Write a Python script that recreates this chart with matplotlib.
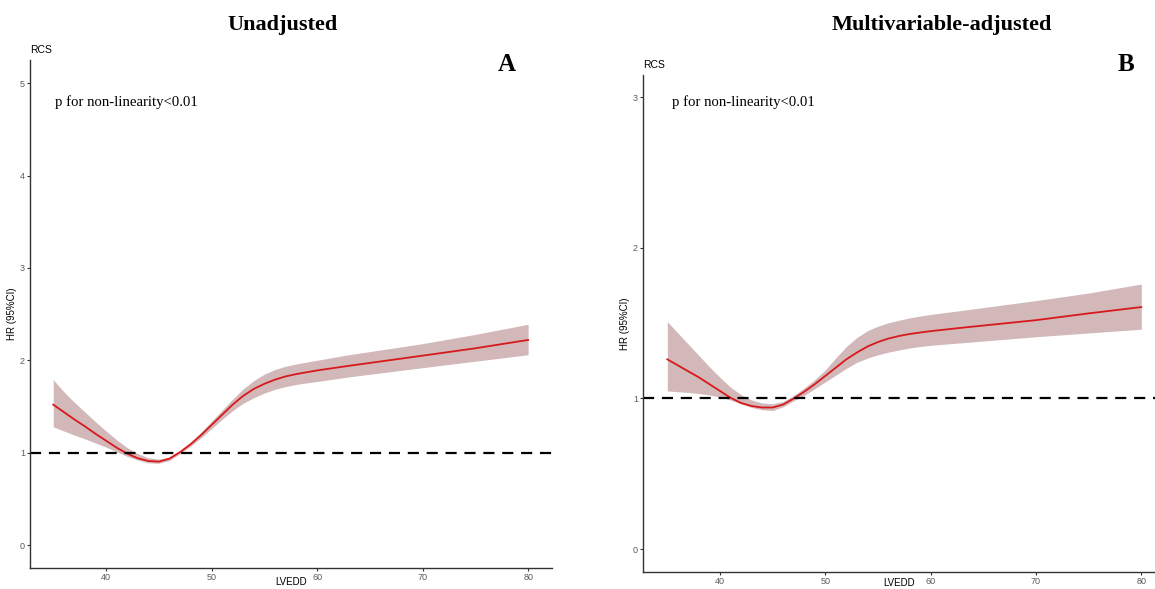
import matplotlib.pyplot as plt
import numpy as np

lvedd = [35, 36, 37, 38, 39, 40, 41, 42, 43, 44, 45, 46, 47, 48, 49, 50,
         51, 52, 53, 54, 55, 56, 57, 58, 59, 60, 63, 70, 75, 80]

# Unadjusted (A)
hr_a = [1.52, 1.44, 1.36, 1.285, 1.205, 1.13, 1.055, 0.99, 0.94, 0.91, 0.903, 0.935, 1.005, 1.09, 1.19, 1.30,
        1.41, 1.52, 1.615, 1.69, 1.745, 1.79, 1.825, 1.85, 1.87, 1.89, 1.94, 2.05, 2.13, 2.22]
up_a = [1.79, 1.66, 1.545, 1.44, 1.335, 1.235, 1.14, 1.055, 0.99, 0.945, 0.93, 0.95, 1.02, 1.11, 1.22, 1.34,
        1.46, 1.58, 1.69, 1.78, 1.85, 1.90, 1.935, 1.96, 1.98, 2.00, 2.06, 2.18, 2.28, 2.39]
lo_a = [1.28, 1.235, 1.19, 1.15, 1.105, 1.06, 1.01, 0.96, 0.92, 0.89, 0.885, 0.915, 0.99, 1.07, 1.16, 1.26,
        1.36, 1.455, 1.535, 1.595, 1.645, 1.685, 1.715, 1.738, 1.755, 1.77, 1.82, 1.92, 1.99, 2.06]

# Multivariable-adjusted (B)
hr_b = [1.26, 1.22, 1.18, 1.14, 1.095, 1.05, 1.005, 0.97, 0.95, 0.94, 0.94, 0.96, 1.0, 1.045, 1.095, 1.15,
        1.205, 1.26, 1.305, 1.345, 1.375, 1.398, 1.415, 1.428, 1.438, 1.447, 1.47, 1.52, 1.565, 1.607]
up_b = [1.51, 1.435, 1.36, 1.285, 1.21, 1.14, 1.075, 1.025, 0.99, 0.97, 0.965, 0.98, 1.02, 1.07, 1.125, 1.19,
        1.27, 1.345, 1.405, 1.45, 1.48, 1.503, 1.52, 1.535, 1.547, 1.558, 1.585, 1.65, 1.70, 1.76]
lo_b = [1.05, 1.045, 1.04, 1.033, 1.023, 1.01, 0.99, 0.965, 0.94, 0.925, 0.92, 0.945, 0.985, 1.02, 1.065, 1.11,
        1.155, 1.20, 1.24, 1.268, 1.29, 1.308, 1.322, 1.335, 1.345, 1.353, 1.37, 1.41, 1.435, 1.46]

titles = ["Unadjusted", "Multivariable-adjusted"]
letters = ["A", "B"]
yticks_a = [0, 1, 2, 3, 4, 5]
yticks_b = [0, 1, 2, 3]
xticks = [40, 50, 60, 70, 80]

sans = 'Liberation Sans'
serif = 'Liberation Serif'

fig = plt.figure(figsize=(11.55, 5.89), dpi=100)

ax1 = fig.add_axes([0.026, 0.0357, 0.452, 0.8624])
ax2 = fig.add_axes([0.5567, 0.0289, 0.4433, 0.8438])

panels = [
    (ax1, hr_a, up_a, lo_a, yticks_a, (32.8, 82.27), (-0.248, 5.25), -3.5),
    (ax2, hr_b, up_b, lo_b, yticks_b, (32.69, 81.3), (-0.152, 3.148), -5.5),
]

for ax, hr, up, lo, yt, xl, yl, xpad in panels:
    ax.fill_between(lvedd, lo, up, color='#d2b8b9', lw=0)
    ax.plot(lvedd, hr, color='#d7191c', lw=1.3)
    ax.axhline(1, color='black', lw=1.6, ls=(0, (5, 3.5)))
    ax.set_xlim(xl)
    ax.set_ylim(yl)
    ax.set_xticks(xticks)
    ax.set_yticks(yt)
    ax.spines['top'].set_visible(False)
    ax.spines['right'].set_visible(False)
    for s in ['left', 'bottom']:
        ax.spines[s].set_color('#333333')
        ax.spines[s].set_linewidth(1.0)
    ax.tick_params(labelsize=6.5, labelcolor='#5a5a5a', color='#333333',
                   length=2.5, width=0.8, pad=1.2)
    for lab in ax.get_xticklabels() + ax.get_yticklabels():
        lab.set_family(sans)
    ax.set_xlabel('LVEDD', fontsize=7, family=sans, labelpad=xpad)
    ax.set_ylabel('HR (95%CI)', fontsize=7, family=sans, labelpad=2)
    ax.text(0.0, 1.01, 'RCS', transform=ax.transAxes, fontsize=7.5,
            family=sans, ha='left', va='bottom')

# titles, panel letters and p-value notes
fig.text(0.245, 0.958, titles[0], fontsize=16, fontweight='bold',
         family=serif, ha='center', va='center')
fig.text(0.815, 0.958, titles[1], fontsize=16, fontweight='bold',
         family=serif, ha='center', va='center')
fig.text(0.439, 0.891, letters[0], fontsize=18, fontweight='bold',
         family=serif, ha='center', va='center')
fig.text(0.975, 0.891, letters[1], fontsize=18, fontweight='bold',
         family=serif, ha='center', va='center')
fig.text(0.0476, 0.826, 'p for non-linearity<0.01', fontsize=10.6,
         family=serif, ha='left', va='center')
fig.text(0.5818, 0.826, 'p for non-linearity<0.01', fontsize=10.6,
         family=serif, ha='left', va='center')

plt.savefig('out.png', dpi=100)
